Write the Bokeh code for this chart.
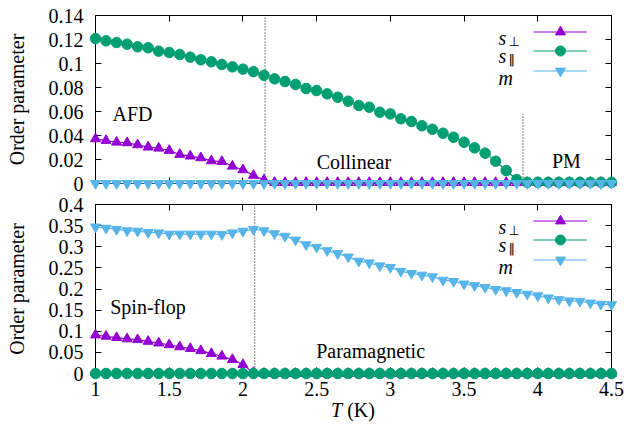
from bokeh.plotting import figure
from bokeh.models import (Range1d, LinearAxis, FixedTicker, CustomJSTickFormatter,
                          Label, Legend, LegendItem, Div)
from bokeh.layouts import column
from bokeh.embed import file_html
from bokeh.resources import INLINE

# ---------------- data ----------------
T = [1.0, 1.0714, 1.1429, 1.2143, 1.2857, 1.3571, 1.4286, 1.5, 1.5714, 1.6429,
     1.7143, 1.7857, 1.8571, 1.9286, 2.0, 2.0714, 2.1429, 2.2143, 2.2857, 2.3571,
     2.4286, 2.5, 2.5714, 2.6429, 2.7143, 2.7857, 2.8571, 2.9286, 3.0, 3.0714,
     3.1429, 3.2143, 3.2857, 3.3571, 3.4286, 3.5, 3.5714, 3.6429, 3.7143, 3.7857,
     3.8571, 3.9286, 4.0, 4.0714, 4.1429, 4.2143, 4.2857, 4.3571, 4.4286, 4.5]

top_s_perp = [0.0372, 0.0358, 0.0344, 0.0339, 0.0322, 0.0303, 0.0294, 0.0275, 0.0242, 0.0228,
              0.0214, 0.0189, 0.0183, 0.0144, 0.0114, 0.0067, 0.0030, 0.0008, 0.0008, 0.0008,
              0.0008, 0.0008, 0.0008, 0.0008, 0.0008, 0.0008, 0.0008, 0.0008, 0.0008, 0.0008,
              0.0008, 0.0008, 0.0008, 0.0008, 0.0008, 0.0008, 0.0008, 0.0008, 0.0008, 0.0008,
              0.0008, 0.0008, 0.0008, 0.0008, 0.0008, 0.0008, 0.0008, 0.0008, 0.0008, 0.0008]
top_s_par = [0.1208, 0.1189, 0.1175, 0.1161, 0.1139, 0.1131, 0.1103, 0.1092, 0.1075, 0.1053,
             0.1031, 0.1014, 0.0992, 0.0972, 0.0953, 0.0932, 0.0902, 0.0872, 0.0850, 0.0825,
             0.0792, 0.0775, 0.0747, 0.0719, 0.0686, 0.0650, 0.0636, 0.0594, 0.0580, 0.0539,
             0.0517, 0.0481, 0.0452, 0.0419, 0.0386, 0.0344, 0.0297, 0.0253, 0.0186, 0.0108,
             0.0033, 0.0010, 0.0010, 0.0010, 0.0010, 0.0010, 0.0010, 0.0010, 0.0010, 0.0010]
top_m = [0.0, 0.0, 0.0, 0.0, 0.0, 0.0, 0.0, 0.0, 0.0, 0.0,
         0.0, 0.0, 0.0, 0.0, 0.0, 0.0, 0.0, 0.0, 0.0, 0.0,
         0.0, 0.0, 0.0, 0.0, 0.0, 0.0, 0.0, 0.0, 0.0, 0.0,
         0.0, 0.0, 0.0, 0.0, 0.0, 0.0, 0.0, 0.0, 0.0, 0.0,
         0.0, 0.0, 0.0, 0.0, 0.0, 0.0, 0.0, 0.0, 0.0, 0.0]

bot_s_perp = [0.091, 0.088, 0.085, 0.082, 0.080, 0.076, 0.072, 0.068, 0.063, 0.059,
              0.054, 0.047, 0.041, 0.033, 0.021, 0.002, 0.0, 0.0, 0.0, 0.0,
              0.0, 0.0, 0.0, 0.0, 0.0, 0.0, 0.0, 0.0, 0.0, 0.0,
              0.0, 0.0, 0.0, 0.0, 0.0, 0.0, 0.0, 0.0, 0.0, 0.0,
              0.0, 0.0, 0.0, 0.0, 0.0, 0.0, 0.0, 0.0, 0.0, 0.0]
bot_s_par = [0.0, 0.0, 0.0, 0.0, 0.0, 0.0, 0.0, 0.0, 0.0, 0.0,
             0.0, 0.0, 0.0, 0.0, 0.0, 0.0, 0.0, 0.0, 0.0, 0.0,
             0.0, 0.0, 0.0, 0.0, 0.0, 0.0, 0.0, 0.0, 0.0, 0.0,
             0.0, 0.0, 0.0, 0.0, 0.0, 0.0, 0.0, 0.0, 0.0, 0.0,
             0.0, 0.0, 0.0, 0.0, 0.0, 0.0, 0.0, 0.0, 0.0, 0.0]
bot_m = [0.347, 0.344, 0.341, 0.338, 0.337, 0.334, 0.333, 0.330, 0.330, 0.330,
         0.330, 0.330, 0.329, 0.333, 0.337, 0.341, 0.338, 0.331, 0.325, 0.316,
         0.305, 0.299, 0.291, 0.284, 0.276, 0.266, 0.262, 0.255, 0.251, 0.242,
         0.237, 0.233, 0.229, 0.221, 0.218, 0.212, 0.208, 0.204, 0.199, 0.196,
         0.192, 0.188, 0.184, 0.179, 0.175, 0.172, 0.171, 0.167, 0.164, 0.163]

x_ticks = [1, 1.5, 2, 2.5, 3, 3.5, 4, 4.5]
x_tick_labels = ["1", "1.5", "2", "2.5", "3", "3.5", "4", "4.5"]
top_y_ticks = [0, 0.02, 0.04, 0.06, 0.08, 0.1, 0.12, 0.14]
top_y_tick_labels = ["0", "0.02", "0.04", "0.06", "0.08", "0.1", "0.12", "0.14"]
bot_y_ticks = [0, 0.05, 0.1, 0.15, 0.2, 0.25, 0.3, 0.35, 0.4]
bot_y_tick_labels = ["0", "0.05", "0.1", "0.15", "0.2", "0.25", "0.3", "0.35", "0.4"]

# transitions (dotted lines)
top_tc_x = [2.15, 3.9]
top_tc_top = [0.14, 0.058]
bot_tc_x = [2.08]
bot_tc_top = [0.4]

# phase labels
top_phase_text = ["AFD", "Collinear", "PM"]
top_phase_x = [1.115, 2.50, 4.096]
top_phase_y = [0.0578, 0.0178, 0.0185]
bot_phase_text = ["Spin-flop", "Paramagnetic"]
bot_phase_x = [1.10, 2.497]
bot_phase_y = [0.157, 0.054]

series_main = ["s", "s", "m"]
series_sub = ["\u22a5", "\u2016", ""]
colors = ["#9400d3", "#009e73", "#56b4e9"]
markers = ["triangle", "circle", "inverted_triangle"]
sizes = [10, 10.5, 10]

FONT = "Liberation Serif"
FS = "20px"
W = 624
ML = 95
MR = 13
FRAME_W = W - ML - MR


def label_formatter(tick_vals, tick_texts):
    return CustomJSTickFormatter(args=dict(tvals=tick_vals, ttexts=tick_texts), code="""
        for (let i = 0; i < tvals.length; i++) {
            if (Math.abs(tvals[i] - tick) < 1e-9) { return ttexts[i]; }
        }
        return "";
    """)


def make_axis(tick_vals, tick_texts, show, standoff=12):
    ax = LinearAxis(ticker=FixedTicker(ticks=tick_vals))
    if show:
        ax.formatter = label_formatter(tick_vals, tick_texts)
        ax.major_label_text_font_size = FS
        ax.major_label_standoff = standoff
    else:
        ax.formatter = CustomJSTickFormatter(code="return '';")
        ax.major_label_text_font_size = "1px"
        ax.major_label_standoff = 0
    ax.major_label_text_font = FONT
    ax.major_label_text_color = "black"
    ax.major_tick_in = 6
    ax.major_tick_out = 0
    ax.major_tick_line_color = "black"
    ax.minor_tick_line_color = None
    ax.axis_line_color = None
    return ax


def build(height, mtop, mbottom, ymax, yticks, ylabels, series, tc_x, tc_top,
          ptext, px, py, show_xlabels):
    frame_h = height - mtop - mbottom
    p = figure(width=W, height=height, x_range=Range1d(1, 4.5), y_range=Range1d(0, ymax),
               x_axis_type=None, y_axis_type=None, output_backend="svg",
               toolbar_location=None, min_border_left=ML, min_border_right=MR,
               min_border_top=mtop, min_border_bottom=mbottom)
    p.outline_line_color = "black"
    p.outline_line_width = 1
    p.background_fill_color = "white"
    p.border_fill_color = "white"

    left = make_axis(yticks, ylabels, True, 12)
    left.axis_label = "Order parameter"
    left.axis_label_text_font = FONT
    left.axis_label_text_font_size = FS
    left.axis_label_text_font_style = "normal"
    left.axis_label_text_color = "black"
    left.axis_label_standoff = 18
    p.add_layout(left, "left")
    p.add_layout(make_axis(yticks, ylabels, False), "right")
    p.add_layout(make_axis(x_ticks, x_tick_labels, show_xlabels, 8), "below")
    p.add_layout(make_axis(x_ticks, x_tick_labels, False), "above")

    # dotted transition lines
    p.segment(x0=tc_x, y0=[0] * len(tc_x), x1=tc_x, y1=tc_top, line_color="black",
              line_width=1, line_dash="1 2")

    row_offsets = [16, 35.7, 55]
    leg_x = FRAME_W - 78
    for i, ys in enumerate(series):
        lr = p.line(T, ys, line_color=colors[i], line_width=1.2)
        sr = p.scatter(T, ys, marker=markers[i], size=sizes[i], fill_color=colors[i],
                       line_color=colors[i], level="overlay")
        # legend sample (gnuplot style: text at left, sample at right)
        leg = Legend(items=[LegendItem(label=" ", renderers=[lr, sr])],
                     location=(leg_x, frame_h - row_offsets[i] - 12.5),
                     glyph_width=54, glyph_height=25, label_height=25, label_width=0,
                     label_standoff=0, label_text_font_size="1px", spacing=0,
                     padding=0, margin=0, background_fill_alpha=0, border_line_color=None)
        p.add_layout(leg)

    # legend texts
    base_main = [22.3, 40.7, 62.3]
    base_sub = [25.7, 44.2, 0]
    for i in range(3):
        p.add_layout(Label(x=FRAME_W - 113, y=frame_h - base_main[i], x_units="screen",
                           y_units="screen", text=series_main[i], text_font=FONT,
                           text_font_size=FS, text_font_style="italic",
                           text_baseline="alphabetic", text_align="left", text_color="black"))
        if series_sub[i]:
            p.add_layout(Label(x=FRAME_W - 103, y=frame_h - base_sub[i], x_units="screen",
                               y_units="screen", text=series_sub[i], text_font="DejaVu Sans",
                               text_font_size="13px", text_baseline="alphabetic",
                               text_align="left", text_color="black"))

    for t, x, y in zip(ptext, px, py):
        p.add_layout(Label(x=x, y=y, text=t, text_font=FONT, text_font_size=FS,
                           text_baseline="middle", text_align="left", text_color="black"))
    return p


p1 = build(194, 15, 11, 0.14, top_y_ticks, top_y_tick_labels,
           [top_s_perp, top_s_par, top_m], top_tc_x, top_tc_top,
           top_phase_text, top_phase_x, top_phase_y, False)
p2 = build(211, 10, 32, 0.4, bot_y_ticks, bot_y_tick_labels,
           [bot_s_perp, bot_s_par, bot_m], bot_tc_x, bot_tc_top,
           bot_phase_text, bot_phase_x, bot_phase_y, True)

# x-axis title: italic T and upright (K)
xlabel = Div(text=("<div style=\"position:relative; top:-6px; width:624px; box-sizing:border-box; "
                   "padding-left:82px; text-align:center; font-family:'Liberation Serif'; "
                   "font-size:20px; line-height:23px; color:black;\"><i>T</i> (K)</div>"),
             width=624, height=29, margin=0)

layout = column(p1, p2, xlabel, spacing=0)
open("out.html", "w").write(file_html(layout, INLINE))
